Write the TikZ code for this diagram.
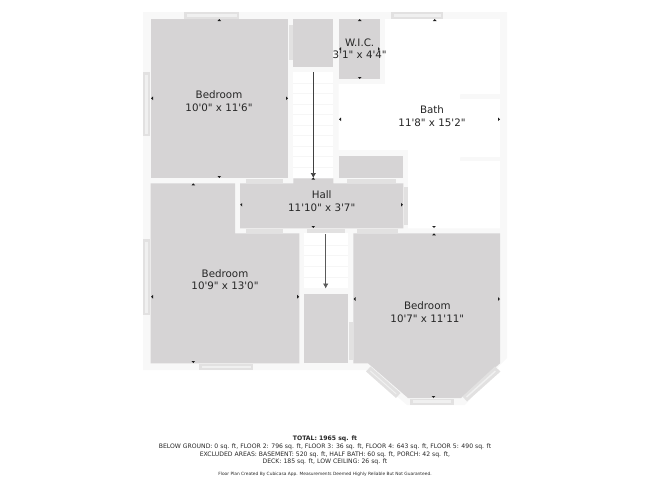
\documentclass[tikz,border=0pt]{standalone}
\usepackage{fontspec}
\newfontfamily\planfont{DejaVu Sans}
\usetikzlibrary{arrows.meta}
\definecolor{roomgrey}{HTML}{D6D4D5}
\definecolor{wallc}{HTML}{F8F8F8}
\definecolor{winc}{HTML}{E2E1E1}
\definecolor{winin}{HTML}{F0F0F0}
\definecolor{stepc}{HTML}{F6F6F6}
\definecolor{labelc}{HTML}{262626}
\definecolor{markc}{HTML}{1E1E1E}
\tikzset{
  room/.style={fill=roomgrey,draw=none},
  wallfill/.style={fill=wallc,draw=none},
  white room/.style={fill=white,draw=none},
  opening/.style={fill=winc,draw=none},
  winpane/.style={fill=winin,draw=none},
  stepline/.style={draw=stepc,line width=.6pt},
  roomlabel/.style={text=labelc,font=\planfont\fontsize{10.3}{12.4}\selectfont,align=center,inner sep=0pt},
  footer/.style={text=labelc,font=\planfont\fontsize{6.12}{7.7}\selectfont,align=center,inner sep=0pt},
  credit/.style={text=labelc,font=\planfont\fontsize{4.35}{5}\selectfont,align=center,inner sep=0pt},
  stairarrow/.style={draw=#1,line width=.7pt,-{Latex[length=5pt,width=5.5pt]}},
}
\newcommand{\mku}[2]{\fill[markc] (#1-1.8,#2+2) -- (#1+1.8,#2+2) -- (#1,#2) -- cycle;}
\newcommand{\mkd}[2]{\fill[markc] (#1-1.8,#2-2) -- (#1+1.8,#2-2) -- (#1,#2) -- cycle;}
\newcommand{\mkl}[2]{\fill[markc] (#1+2,#2-1.8) -- (#1+2,#2+1.8) -- (#1,#2) -- cycle;}
\newcommand{\mkr}[2]{\fill[markc] (#1-2,#2-1.8) -- (#1-2,#2+1.8) -- (#1,#2) -- cycle;}
\newcommand{\win}[4]{\fill[opening] (#1,#2) rectangle (#3,#4);}
\begin{document}
\begin{tikzpicture}[x=1pt,y=-1pt]
\useasboundingbox (0,0) rectangle (650,488);
% walls
\path[wallfill] (143,12) -- (507,12) -- (507,358) -- (500,365) -- (465,405) -- (407,405) -- (366,370) -- (143,370) -- cycle;
% white areas
\path[white room] (385,19) -- (500,19) -- (500,94) -- (460,94) -- (460,99) -- (500,99) -- (500,157) -- (460,157) -- (460,161) -- (500,161) -- (500,228.3) -- (408,228.3) -- (408,150) -- (338.7,150) -- (338.7,84) -- (385,84) -- cycle;
\path[white room] (293.3,72) rectangle (333.3,178.3);
\path[white room] (304,233.3) rectangle (348.3,288);
% stair treads
\foreach \yy in {83,93,104,114,125,135,146,156,167} {\draw[stepline] (293.3,\yy) -- (333.3,\yy);}
\foreach \yy in {245,255,266,277} {\draw[stepline] (304,\yy) -- (348.3,\yy);}
% rooms
\path[room] (150.7,18.7) rectangle (288,178);
\path[room] (293.3,18.7) rectangle (333.3,67);
\path[room] (338.7,18.7) rectangle (380.3,79);
\path[room] (338.7,156) rectangle (403.3,178);
\path[room] (240,183.3) -- (293.3,183.3) -- (293.3,178.3) -- (333.3,178.3) -- (333.3,183.3) -- (403.3,183.3) -- (403.3,228.3) -- (240,228.3) -- cycle;
\path[room] (150.7,183.3) -- (235,183.3) -- (235,233.3) -- (299.3,233.3) -- (299.3,363.3) -- (150.7,363.3) -- cycle;
\path[room] (304,294) rectangle (348.3,363.3);
\path[room] (353.3,233.3) -- (500,233.3) -- (500,363.3) -- (461,398) -- (408,398) -- (368,363.3) -- (353.3,363.3) -- cycle;
% windows
\win{184.3}{12}{239.3}{18.7}
\path[winpane] (187,14) rectangle (236.5,16.7);
\win{143}{72}{150}{136}
\path[winpane] (145,74.5) rectangle (148,133.5);
\win{390.7}{12}{443.3}{18.7}
\path[winpane] (393.5,14) rectangle (440.5,16.7);
\win{143}{239}{150}{315}
\path[winpane] (145,241.5) rectangle (148,312.5);
\win{199}{363.8}{253.3}{370}
\path[winpane] (202,365.5) rectangle (250.5,368.2);
\win{410}{398.5}{454}{405}
\path[winpane] (413,400.3) rectangle (451,403);
\path[opening] (370.5,366.5) -- (400.5,393) -- (396,398) -- (366,371.5) -- cycle;
\path[winpane] (370.5,370.5) -- (396.5,393.5) -- (396,394.3) -- (370,371.3) -- cycle;
\path[opening] (495,366.5) -- (500.5,371.5) -- (467,401.5) -- (462.5,396.5) -- cycle;
\path[winpane] (495,370.5) -- (496,371.5) -- (467,397.5) -- (466,396.5) -- cycle;
% door strips
\win{289}{25}{292.5}{60}
\win{245.7}{178.8}{283.3}{183}
\win{245.7}{229}{283.3}{233}
\win{306.7}{229}{345}{233}
\win{357}{229}{397.7}{233}
\win{347.3}{179}{396}{183}
\win{404}{187}{408}{225}
\win{349.3}{321.7}{352.5}{360}
% stair arrows
\coordinate (upstart) at (313.3,72);
\coordinate (upend) at (313.3,178);
\coordinate (downstart) at (325.7,234);
\coordinate (downend) at (325.7,288.5);
\draw[stairarrow=black!75] (upstart) -- (upend);
\draw[stairarrow=black!65] (downstart) -- (downend);
% markers
\mku{219.3}{19}\mkd{219.3}{178}\mkl{151}{98.3}\mkr{288}{98.3}
\mku{359.7}{19}\mkd{359.7}{79}\mkl{339}{49}\mkr{380}{49}
\mku{434.7}{19}\mkl{339}{119.3}\mkr{500}{119.3}\mkd{434}{228}
\mku{193.3}{183.3}\mkd{193.3}{363}\mkl{151}{296.7}\mkr{299.2}{296.7}
\mkl{240.2}{204.7}\mkr{403}{204.7}\mku{313.3}{177.5}\mkd{313.3}{228}
\mku{434}{233.3}\mkl{353.5}{299}\mkr{500}{299}\mkd{433.5}{398}
% labels
\node[roomlabel] (bedA) at (219,101) {Bedroom\\10'0" x 11'6"};
\node[roomlabel] (wic) at (359.7,48.5) {W.I.C.\\3'1" x 4'4"};
\node[roomlabel] (bath) at (432,116) {Bath\\11'8" x 15'2"};
\node[roomlabel] (hall) at (321.7,201) {Hall\\11'10" x 3'7"};
\node[roomlabel] (bedB) at (225,279.5) {Bedroom\\10'9" x 13'0"};
\node[roomlabel] (bedC) at (427.3,312) {Bedroom\\10'7" x 11'11"};
\node[footer] (total) at (325,450.5) {\textbf{TOTAL: 1965 sq. ft}\\BELOW GROUND: 0 sq. ft, FLOOR 2: 796 sq. ft, FLOOR 3: 36 sq. ft, FLOOR 4: 643 sq. ft, FLOOR 5: 490 sq. ft\\EXCLUDED AREAS: BASEMENT: 520 sq. ft, HALF BATH: 60 sq. ft, PORCH: 42 sq. ft,\\DECK: 185 sq. ft, LOW CEILING: 26 sq. ft};
\node[credit] (creditline) at (325,474) {Floor Plan Created By Cubicasa App. Measurements Deemed Highly Reliable But Not Guaranteed.};
\end{tikzpicture}
\end{document}
